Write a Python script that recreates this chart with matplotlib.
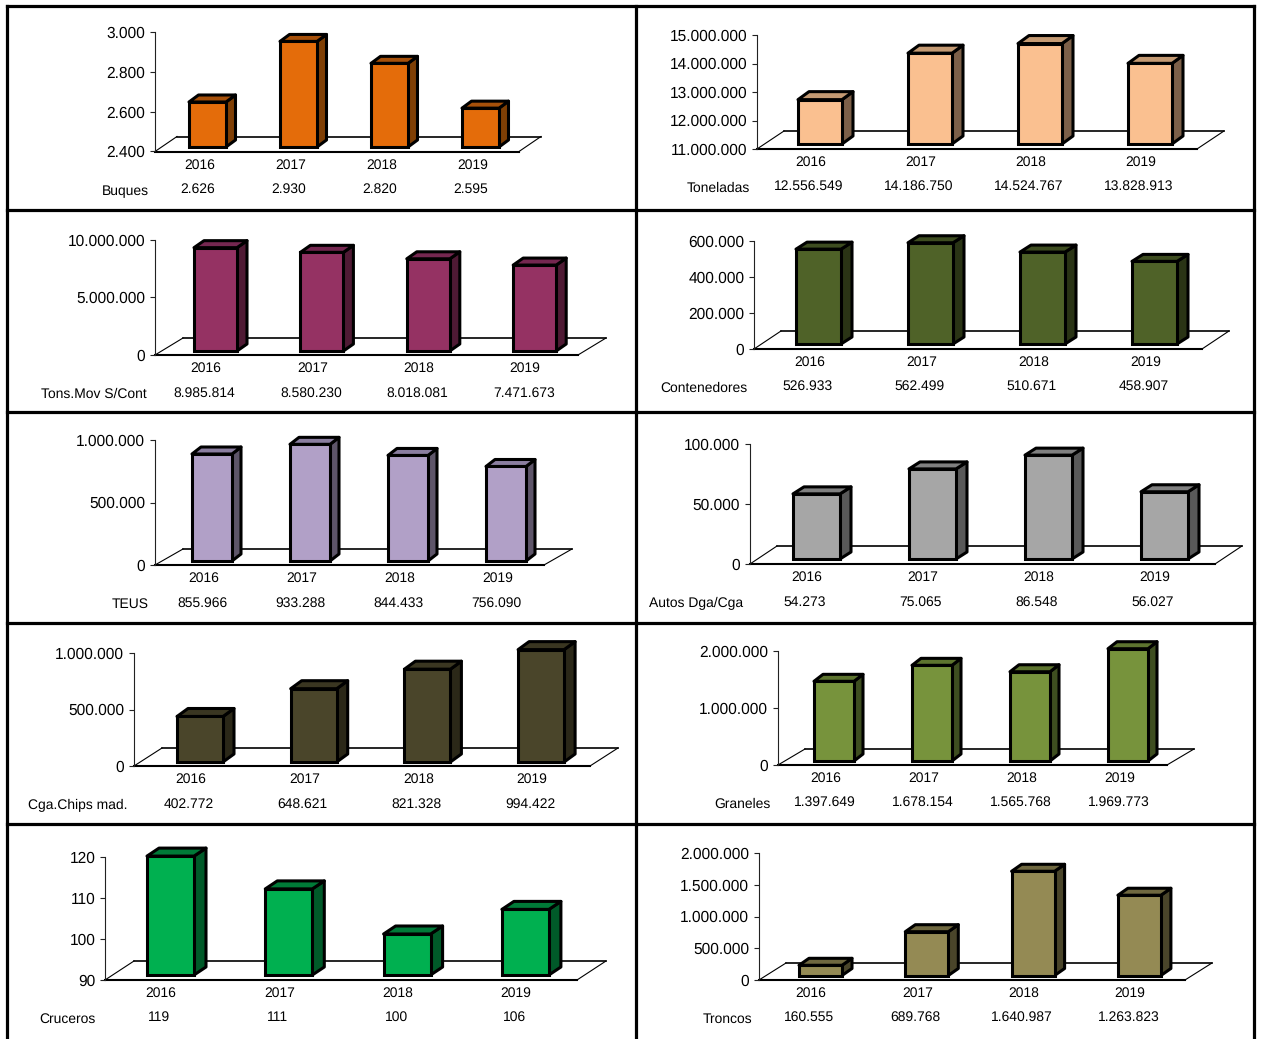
import matplotlib
matplotlib.use("Agg")
import matplotlib.pyplot as plt
from matplotlib.patches import Polygon
from matplotlib.transforms import Affine2D, IdentityTransform
from matplotlib.ticker import FuncFormatter
from matplotlib.lines import Line2D

plt.rcParams['font.family'] = ['Liberation Sans', 'DejaVu Sans']
plt.rcParams['text.hinting'] = 'no_hinting'

W, H = 1261, 1039
years = ['2016', '2017', '2018', '2019']

names = ['Buques', 'Toneladas', 'Tons.Mov S/Cont', 'Contenedores', 'TEUS',
         'Autos Dga/Cga', 'Cga.Chips mad.', 'Graneles', 'Cruceros', 'Troncos']

buques = [2626, 2930, 2820, 2595]
toneladas = [12556549, 14186750, 14524767, 13828913]
tons_mov = [8985814, 8580230, 8018081, 7471673]
contenedores = [526933, 562499, 510671, 458907]
teus = [855966, 933288, 844433, 756090]
autos = [54273, 75065, 86548, 56027]
chips = [402772, 648621, 821328, 994422]
graneles = [1397649, 1678154, 1565768, 1969773]
cruceros = [119, 111, 100, 106]
troncos = [160555, 689768, 1640987, 1263823]
series = [buques, toneladas, tons_mov, contenedores, teus,
          autos, chips, graneles, cruceros, troncos]

ticks = [
    [2400, 2600, 2800, 3000],
    [11000000, 12000000, 13000000, 14000000, 15000000],
    [0, 5000000, 10000000],
    [0, 200000, 400000, 600000],
    [0, 500000, 1000000],
    [0, 50000, 100000],
    [0, 500000, 1000000],
    [0, 1000000, 2000000],
    [90, 100, 110, 120],
    [0, 500000, 1000000, 1500000, 2000000],
]

# Layout in pixels: axis x, top y, bottom y, floor right, floor dx, floor dy,
# first bar left, bar spacing, bar width, depth dx, depth dy, base lift,
# year y, value y, name y, name right, year dx, value dx
layout = [
    (155, 32, 151.5, 519, 22, 15, 189, 91, 37, 9.5, 7, 4.5, 165, 189, 191, 149, -7.5, -9.5),
    (757, 35, 149, 1197, 27, 18, 798, 110, 44, 11, 8, 5, 162, 186, 188, 750, -9, -11),
    (155, 240, 355, 578, 28, 17, 194, 106.4, 43, 10, 7, 4, 368, 393, 394, 147, -9.5, -11),
    (754, 241, 349, 1202, 27, 18, 796, 112, 45, 11, 7, 5, 362, 386, 388, 747, -8.5, -11),
    (155, 440, 565, 544, 28, 16, 192, 98, 40, 9, 7, 4, 578, 603, 604, 149, -8, -10),
    (750, 444, 564, 1215, 27, 18, 793, 116, 47, 11, 7, 5, 577, 602, 603, 743, -9.5, -11.5),
    (134, 653, 766, 590, 28, 18, 177, 113.7, 46, 11, 8, 4, 779, 804, 805, 128, -9, -11),
    (778, 651, 765, 1167, 27, 16, 814, 98, 40, 9, 7, 4, 778, 802, 804, 771, -8, -9.5),
    (105, 857, 980, 577, 29, 19, 147, 118.3, 47, 12, 8, 5, 993, 1017, 1019, 96, -9.5, -11),
    (759, 853, 980, 1185, 27, 17, 799, 106.3, 43, 10, 7, 4.5, 993, 1017, 1019, 752, -9.5, -11),
]

colors = [
    ('#E46C0A', '#7F3F05', '#A6500A'),
    ('#FAC090', '#7D6049', '#C49A73'),
    ('#953263', '#4F1A34', '#752750'),
    ('#4F6228', '#2A3415', '#3E4D20'),
    ('#B1A0C7', '#5E5569', '#8B7EA0'),
    ('#A6A6A6', '#595959', '#808080'),
    ('#4A452A', '#2B2818', '#3A3621'),
    ('#77933C', '#3E4E20', '#5D742F'),
    ('#00B050', '#005A29', '#007A38'),
    ('#948A54', '#4A452A', '#6F6840'),
]

fig = plt.figure(figsize=(W / 100, H / 100), dpi=100, facecolor='white')
fmt = FuncFormatter(lambda v, _: f'{int(round(v)):,}'.replace(',', '.'))


def draw_panel(name, values, tks, lay, cols):
    (ax_x, top, bot, right, fdx, fdy, b0, sp, bw, ddx, ddy, lift,
     yy, vy, ny, nr, ydx, vdx) = lay
    ax = fig.add_axes([ax_x / W, 1 - bot / H, (right - ax_x) / W, (bot - top) / H])
    c0 = b0 + bw / 2
    ax.set_xlim((ax_x - c0) / sp, (right - c0) / sp)
    ymin, ymax = tks[0], tks[-1]
    ax.set_ylim(ymin, ymax)
    ax.patch.set_visible(False)
    for s in ('top', 'right', 'bottom'):
        ax.spines[s].set_visible(False)
    ax.spines['left'].set_linewidth(0.8)
    ax.spines['left'].set_color('#222222')
    ax.set_xticks([])
    ax.set_yticks(tks)
    ax.yaxis.set_major_formatter(fmt)
    ax.tick_params(axis='y', direction='out', length=3.5, width=0.8,
                   labelsize=11.2, pad=3.5, color='#222222')

    # floor
    to_px = ax.transData.transform
    x0, y0 = to_px((ax.get_xlim()[0], ymin))
    x1, _ = to_px((ax.get_xlim()[1], ymin))
    ax.add_patch(Polygon([(x0, y0), (x1, y0), (x1 + fdx, y0 + fdy), (x0 + fdx, y0 + fdy)],
                         closed=True, fc='white', ec='none', transform=IdentityTransform(),
                         clip_on=False, zorder=1))
    for pts, lw in (([(x0, y0), (x1, y0)], 1.5), ([(x0 + fdx, y0 + fdy), (x1 + fdx, y0 + fdy)], 1.2),
                    ([(x0, y0), (x0 + fdx, y0 + fdy)], 0.8), ([(x1, y0), (x1 + fdx, y0 + fdy)], 0.8)):
        ax.add_line(Line2D(*zip(*pts), color='black', lw=lw, transform=IdentityTransform(),
                           clip_on=False, zorder=1.5))

    # bars: front through the data scale, lifted onto the floor; sides follow
    lifted = ax.transData + Affine2D().translate(0, lift)
    half = bw / sp / 2
    for i, v in enumerate(values):
        ax.bar(i, v - ymin, width=2 * half, bottom=ymin, color=cols[0], edgecolor='black',
               linewidth=2.2, transform=lifted, clip_on=False, zorder=3, joinstyle='miter')
        (lx, by), (rx, ty) = lifted.transform([(i - half, ymin), (i + half, v)])
        ax.add_patch(Polygon([(rx, by), (rx + ddx, by + ddy), (rx + ddx, ty + ddy), (rx, ty)],
                             closed=True, fc=cols[1], ec='black', lw=2.2, joinstyle='round',
                             transform=IdentityTransform(), clip_on=False, zorder=2))
        ax.add_patch(Polygon([(lx, ty), (rx, ty), (rx + ddx, ty + ddy), (lx + ddx, ty + ddy)],
                             closed=True, fc=cols[2], ec='black', lw=2.2, joinstyle='round',
                             transform=IdentityTransform(), clip_on=False, zorder=2))
        ax.annotate(years[i], xy=(i, ymin), xytext=(ydx, (bot - yy)), textcoords='offset pixels',
                    ha='center', va='center', fontsize=10, annotation_clip=False)
        ax.annotate(fmt(v, None), xy=(i, ymin), xytext=(vdx, (bot - vy)), textcoords='offset pixels',
                    ha='center', va='center', fontsize=10, annotation_clip=False)
    fig.text(nr / W, 1 - ny / H, name, ha='right', va='center', fontsize=10)


for args in zip(names, series, ticks, layout, colors):
    draw_panel(*args)

# panel frame
frame_lw = 2.3
for y in (6, 210, 412, 623, 824):
    fig.add_artist(Line2D([7 / W, 1254 / W], [1 - y / H] * 2, color='black', lw=frame_lw))
for x in (7, 636, 1254):
    fig.add_artist(Line2D([x / W] * 2, [1 - 6 / H, 0], color='black', lw=frame_lw))

fig.savefig('out.png', dpi=100)
